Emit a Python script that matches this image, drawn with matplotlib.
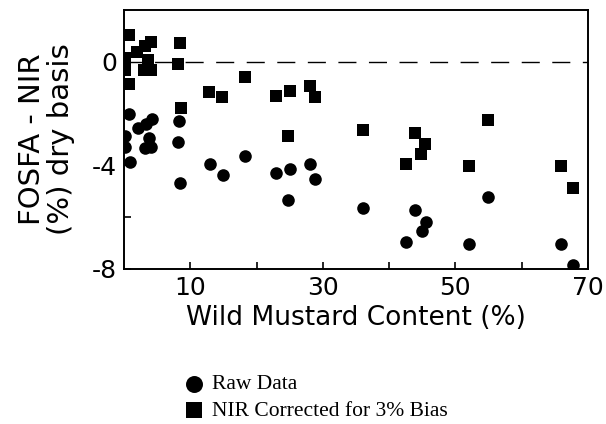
import matplotlib
matplotlib.use("Agg")
import matplotlib.pyplot as plt

# wild mustard content (%) and FOSFA - NIR difference (% dry basis)
raw_x = [0.7, 4.3, 3.3, 2.1, 8.3, 0.2, 3.7, 8.2, 0.1, 3.1, 4.1, 0.9, 8.5,
         13.0, 18.3, 14.9, 22.9, 25.0, 28.0, 28.8, 24.7,
         36.0, 43.9, 45.6, 44.9, 42.6, 55.0, 52.1, 66.0, 67.8]
raw_y = [-2.0, -2.2, -2.4, -2.56, -2.28, -2.88, -2.92, -3.1, -3.3, -3.33, -3.3, -3.85, -4.68,
         -3.94, -3.62, -4.35, -4.30, -4.12, -3.94, -4.52, -5.35,
         -5.64, -5.73, -6.18, -6.55, -6.96, -5.21, -7.02, -7.02, -7.86]

corr_x = [0.7, 8.4, 4.1, 3.1, 1.9, 0.2, 3.6, 8.2, 0.2, 3.0, 4.1, 0.8, 8.6,
          18.3, 12.9, 14.8, 23.0, 25.0, 28.0, 28.8, 24.7,
          36.0, 43.9, 45.5, 44.8, 42.6, 55.0, 52.1, 66.0, 67.8]
corr_y = [1.04, 0.75, 0.78, 0.62, 0.40, 0.14, 0.08, -0.09, -0.33, -0.31, -0.33, -0.85, -1.79,
          -0.57, -1.17, -1.36, -1.30, -1.11, -0.92, -1.34, -2.86,
          -2.63, -2.73, -3.17, -3.55, -3.95, -2.24, -4.02, -4.02, -4.88]

x_ticks = [10, 20, 30, 40, 50, 60, 70]
x_labels = ["10", "", "30", "", "50", "", "70"]
y_ticks = [0, -2, -4, -6, -8]
y_labels = ["0", "", "-4", "", "-8"]

SANS = "DejaVu Sans"

fig = plt.figure(figsize=(6.06, 4.24), dpi=100)
ax = fig.add_axes([0.2046, 0.3656, 0.7654, 0.6104])

ax.axhline(0, color="black", lw=1.0, ls=(0, (13, 9)), zorder=1)
ax.scatter(raw_x, raw_y, marker="o", s=82, color="black", lw=0, zorder=3, label="Raw Data")
ax.scatter(corr_x, corr_y, marker="s", s=66, color="black", lw=0, zorder=3,
           label="NIR Corrected for 3% Bias")

ax.set_xlim(0, 70)
ax.set_ylim(-8, 2)
ax.set_xticks(x_ticks)
ax.set_xticklabels(x_labels)
ax.set_yticks(y_ticks)
ax.set_yticklabels(y_labels)
ax.tick_params(direction="in", length=5, width=1.2, labelsize=18, pad=5)
for lab in ax.get_xticklabels() + ax.get_yticklabels():
    lab.set_family(SANS)
for sp in ax.spines.values():
    sp.set_linewidth(1.4)

ax.set_xlabel("Wild Mustard Content (%)", fontsize=19, family=SANS, labelpad=4)
ax.set_ylabel("FOSFA - NIR\n(%) dry basis", fontsize=21, family=SANS,
              linespacing=1.05, labelpad=12)

ax.legend(loc="upper left", bbox_to_anchor=(0.303, 0.117), bbox_transform=fig.transFigure,
          frameon=False, prop={"family": "Liberation Serif", "size": 15.5}, markerscale=1.35,
          handletextpad=0.3, labelspacing=0.3, handlelength=1.0, borderaxespad=0,
          borderpad=0)

fig.savefig("out.png", dpi=100)
